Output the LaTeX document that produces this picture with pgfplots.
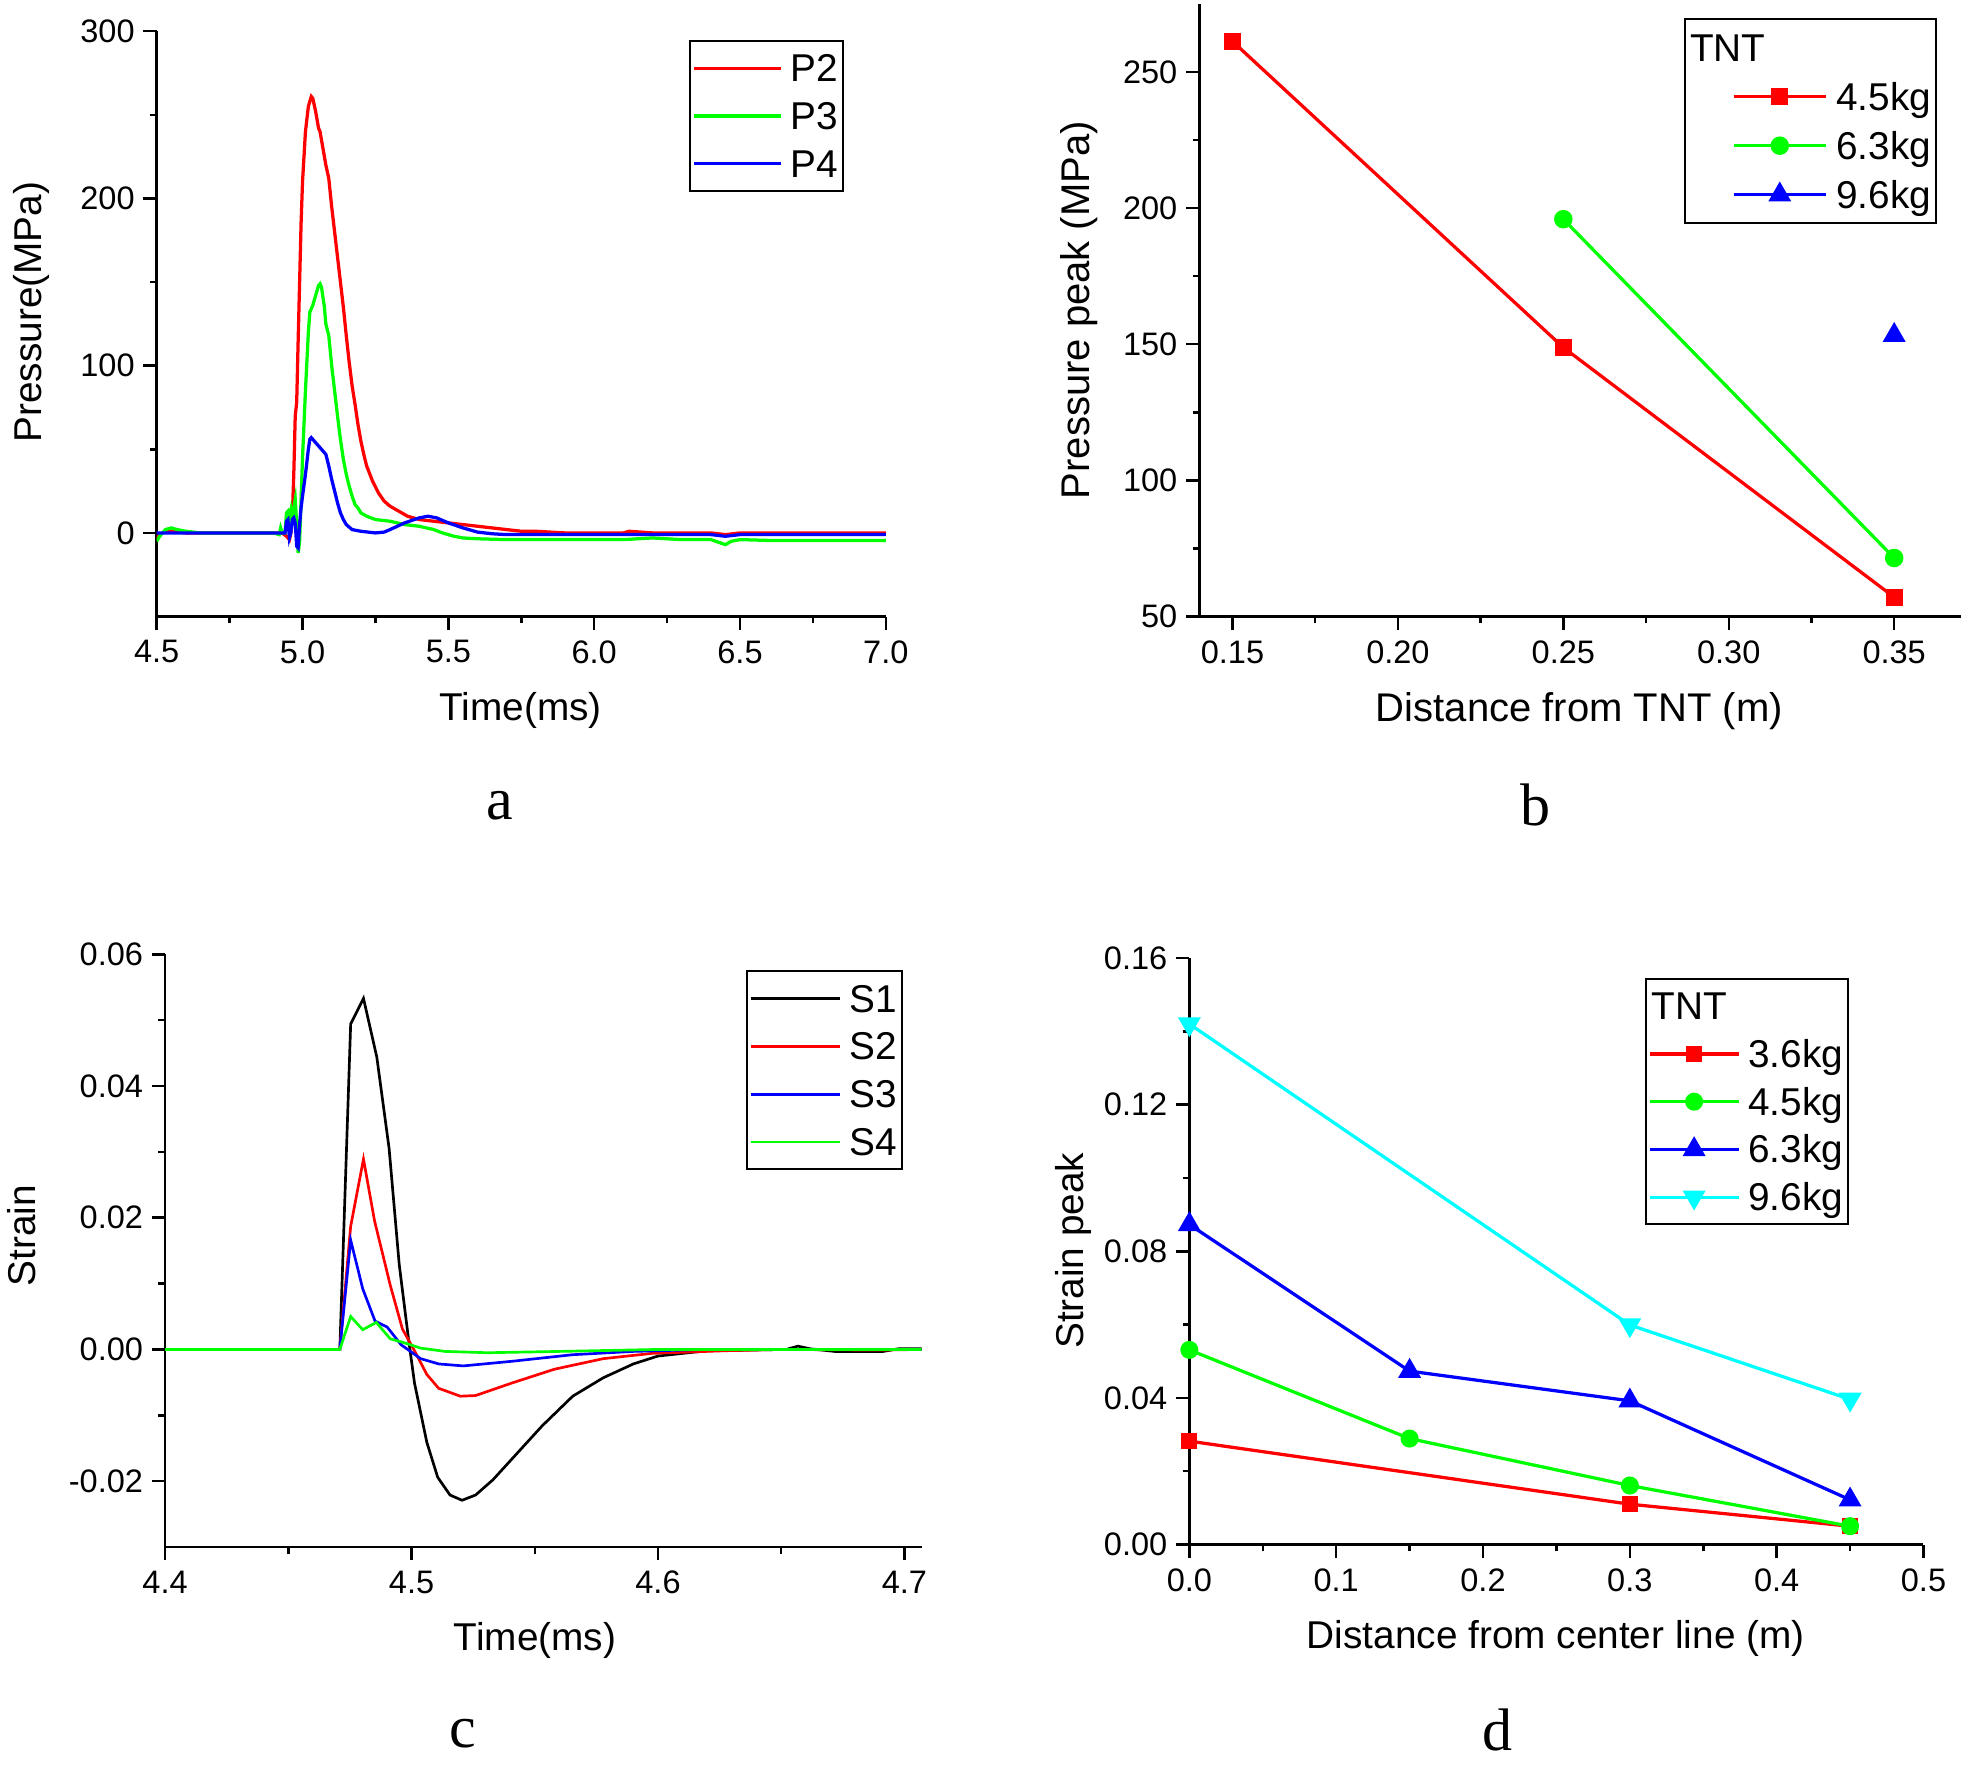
\documentclass[border=0pt]{standalone}
\usepackage{pgfplots}
\pgfplotsset{compat=1.18}
\usepackage{fontspec}
\setmainfont{Liberation Sans}
\newfontfamily\letterfont{Liberation Serif}
\definecolor{pgreen}{RGB}{0,255,0}
\definecolor{pcyan}{RGB}{0,255,255}
\begin{document}
\begin{tikzpicture}
\useasboundingbox (0,0) rectangle (784pt,706pt);
\pgfplotsset{
  base/.style={
    scale only axis,
    axis x line=bottom, axis y line=left,
    axis line style={-, line width=1pt},
    tick align=outside,
    major tick length=5.3pt, minor tick length=2.7pt,
    every tick/.style={black, line width=1pt},
    minor tick num=1,
    scaled ticks=false,
    xticklabel shift=0.7pt,
    tick label style={font=\fontsize{13}{15}\selectfont},
    label style={font=\fontsize{15.5}{18}\selectfont},
    /pgf/number format/assume math mode=true,
    legend cell align=left,
    legend style={draw=black, line width=0.8pt, font=\fontsize{15.5}{18}\selectfont,
      inner xsep=1pt, inner ysep=1.3pt, row sep=0pt,
      nodes={inner sep=1pt, text height=13.9pt, text depth=3.2pt}},
    every axis plot/.append style={line width=1.3pt},
  },
}
% ---------------- panel a
\begin{axis}[base, at={(62.65pt,459.5pt)}, anchor=south west,
  width=291.5pt, height=234pt,
  xmin=4.5, xmax=7.0, ymin=-50, ymax=300,
  xtick={4.5,5.0,5.5,6.0,6.5,7.0}, ytick={0,100,200,300},
  xticklabel style={/pgf/number format/.cd, fixed, fixed zerofill, precision=1},
  xlabel={Time(ms)}, ylabel={Pressure(MPa)},
  xlabel style={at={(axis description cs:0.499,-0.160)}, anchor=center},
  ylabel style={at={(axis description cs:-0.1715,0.52)}, anchor=center},
  legend style={at={(0.7302,0.985)}, anchor=north west},
  legend image code/.code={\path (0pt,0pt); \draw[#1] (0pt,0pt) -- (34.5pt,0pt); \path (36.8pt,0pt);},
]
\addplot[red] coordinates {(4.50,-3) (4.51,-1) (4.53,1) (4.56,1) (4.6,0) (4.7,0) (4.8,0) (4.9,0) (4.93,0) (4.945,-2) (4.955,-4) (4.96,0) (4.965,10) (4.97,35) (4.975,70) (4.98,78) (4.985,115) (4.99,150) (4.995,185) (5.00,210) (5.01,240) (5.02,255) (5.03,261) (5.035,260) (5.045,252) (5.055,242) (5.06,240) (5.07,230) (5.08,220) (5.09,212) (5.10,195) (5.11,180) (5.12,165) (5.13,150) (5.14,135) (5.15,118) (5.16,102) (5.17,88) (5.18,77) (5.19,65) (5.20,55) (5.21,47) (5.22,40) (5.24,31) (5.26,24) (5.28,19) (5.30,16) (5.33,13) (5.36,10) (5.40,8) (5.45,7) (5.50,6) (5.55,5) (5.60,4) (5.65,3) (5.70,2) (5.75,1) (5.80,1) (5.9,0) (6.0,0) (6.1,0) (6.12,1) (6.2,0) (6.4,0) (6.45,-1) (6.5,0) (7.0,0)};
\addlegendentry{P2}
\addplot[pgreen] coordinates {(4.50,-5) (4.51,-2) (4.53,2) (4.55,3) (4.57,2) (4.6,1) (4.65,0) (4.9,0) (4.92,-1) (4.925,3) (4.93,0) (4.94,0) (4.945,12) (4.95,13) (4.955,8) (4.96,13) (4.965,5) (4.97,15) (4.975,20) (4.98,5) (4.985,-12) (4.99,-5) (4.995,20) (5.0,45) (5.01,85) (5.02,120) (5.025,132) (5.035,136) (5.045,142) (5.055,148) (5.06,149) (5.065,147) (5.075,135) (5.08,125) (5.09,118) (5.10,100) (5.11,85) (5.12,70) (5.13,56) (5.14,44) (5.15,35) (5.16,28) (5.17,22) (5.18,17) (5.19,15) (5.2,12) (5.22,10) (5.25,8) (5.3,7) (5.35,5) (5.4,4) (5.45,2) (5.48,0) (5.52,-2) (5.55,-3) (5.6,-3.5) (5.7,-4) (5.9,-4) (6.1,-4) (6.2,-3) (6.3,-4) (6.4,-4) (6.45,-7) (6.47,-5) (6.5,-4) (6.6,-4.5) (7.0,-4.5)};
\addlegendentry{P3}
\addplot[blue] coordinates {(4.5,0) (4.9,0) (4.94,0) (4.945,7) (4.95,8) (4.955,-3) (4.96,0) (4.965,8) (4.97,9) (4.975,6) (4.98,-8) (4.985,-9) (4.99,5) (4.995,15) (5.0,22) (5.01,35) (5.02,50) (5.025,56) (5.03,57) (5.04,55) (5.05,53) (5.06,51) (5.07,49) (5.08,47) (5.09,40) (5.10,32) (5.11,25) (5.12,18) (5.13,12) (5.14,8) (5.15,5) (5.17,2) (5.2,1) (5.25,0) (5.28,0.5) (5.3,2) (5.35,6) (5.4,9) (5.43,10) (5.46,9) (5.5,6) (5.55,3) (5.6,0.5) (5.65,-0.5) (5.7,-1) (6.0,-1) (6.4,-1) (6.45,-2) (6.5,-1) (6.7,-1) (7.0,-1)};
\addlegendentry{P4}
\end{axis}
% ---------------- panel b
\begin{axis}[base, at={(479.5pt,459.5pt)}, anchor=south west,
  width=304.5pt, height=245pt,
  xmin=0.14, xmax=0.3702, ymin=50, ymax=275,
  xtick={0.15,0.20,0.25,0.30,0.35}, ytick={50,100,150,200,250},
  xticklabel style={/pgf/number format/.cd, fixed, fixed zerofill, precision=2},
  xlabel={Distance from TNT (m)}, ylabel={Pressure peak (MPa)},
  label style={font=\fontsize{16}{19}\selectfont},
  xlabel style={at={(axis description cs:0.499,-0.155)}, anchor=center},
  ylabel style={at={(axis description cs:-0.1576,0.50)}, anchor=center},
  legend style={at={(0.6366,0.9761)}, anchor=north west, inner ysep=1.5pt,
    nodes={inner sep=1pt, text height=14.35pt, text depth=3.25pt}},
  legend image code/.code={\path (0pt,0pt); \draw[mark repeat=2,mark phase=2,#1] plot coordinates {(17.65pt,0pt) (36.15pt,0pt) (54.65pt,0pt)}; \path (57.15pt,0pt);},
]
\addlegendimage{empty legend}
\addlegendentry{\makebox[0pt][l]{\hspace*{-58.5pt}TNT}}
\addplot[red, mark=square*, mark size=2.75pt] coordinates {(0.15,261.2) (0.25,148.8) (0.35,57.1)};
\addlegendentry{4.5kg}
\addplot[pgreen, mark=*, mark size=3.05pt] coordinates {(0.25,195.9) (0.35,71.5)};
\addlegendentry{6.3kg}
\addplot[blue, mark=triangle*, mark size=4pt] coordinates {(0.35,153.3)};
\addlegendentry{9.6kg}
\end{axis}
% ---------------- panel c
\begin{axis}[base, at={(66pt,87.5pt)}, anchor=south west,
  width=302.5pt, height=237pt,
  xmin=4.4, xmax=4.707, ymin=-0.03, ymax=0.06,
  xtick={4.4,4.5,4.6,4.7}, ytick={-0.02,0,0.02,0.04,0.06},
  xticklabel style={/pgf/number format/.cd, fixed, fixed zerofill, precision=1},
  yticklabel style={/pgf/number format/.cd, fixed, fixed zerofill, precision=2},
  xlabel={Time(ms)}, ylabel={Strain},
  xlabel style={at={(axis description cs:0.489,-0.158)}, anchor=center},
  ylabel style={at={(axis description cs:-0.19,0.525)}, anchor=center},
  legend style={at={(0.7678,0.9726)}, anchor=north west},
  legend image code/.code={\path (0pt,0pt); \draw[#1] (0pt,0pt) -- (35.75pt,0pt); \path (38pt,0pt);},
  every axis plot/.append style={line width=1.07pt},
]
\addplot[black] coordinates {(4.4,0) (4.47,0) (4.4709,0) (4.4753,0.0494) (4.4805,0.0533) (4.4859,0.0444) (4.4909,0.0305) (4.495,0.0129) (4.4988,0.0015) (4.5012,-0.0051) (4.5062,-0.0141) (4.5106,-0.0194) (4.5156,-0.0221) (4.5205,-0.0229) (4.526,-0.0221) (4.533,-0.0198) (4.543,-0.0157) (4.553,-0.0116) (4.5654,-0.0071) (4.5778,-0.0043) (4.59,-0.0022) (4.6,-0.001) (4.61,-0.0006) (4.62,-0.0002) (4.652,0) (4.6568,0.0005) (4.6617,0.0001) (4.6716,-0.0003) (4.6914,-0.0003) (4.6975,0.0001) (4.707,0.0001)};
\addlegendentry{S1}
\addplot[red] coordinates {(4.4,0) (4.4709,0) (4.4753,0.0187) (4.4805,0.0289) (4.485,0.0195) (4.4914,0.0097) (4.4963,0.0031) (4.5012,-0.0002) (4.5062,-0.0038) (4.511,-0.0059) (4.5198,-0.0071) (4.526,-0.007) (4.5407,-0.0051) (4.558,-0.003) (4.5778,-0.0014) (4.5975,-0.0006) (4.627,-0.0002) (4.65,0) (4.69,-0.0001) (4.707,0)};
\addlegendentry{S2}
\addplot[blue] coordinates {(4.4,0) (4.4709,0) (4.4753,0.0166) (4.4802,0.0092) (4.4852,0.0043) (4.4901,0.0034) (4.4958,0.0007) (4.5037,-0.0014) (4.511,-0.0022) (4.521,-0.0025) (4.5407,-0.0018) (4.5654,-0.0008) (4.59,-0.0003) (4.62,0) (4.707,0)};
\addlegendentry{S3}
\addplot[pgreen] coordinates {(4.4,0) (4.4709,0) (4.4753,0.005) (4.4802,0.003) (4.4857,0.0041) (4.4914,0.0016) (4.4963,0.0011) (4.5037,0.0002) (4.5136,-0.0003) (4.5309,-0.0005) (4.56,-0.0003) (4.6,0) (4.707,0)};
\addlegendentry{S4}
\end{axis}
% ---------------- panel d
\begin{axis}[base, at={(475.5pt,88.5pt)}, anchor=south west,
  width=293.5pt, height=234.5pt,
  xmin=0, xmax=0.5, ymin=0, ymax=0.16,
  xtick={0,0.1,0.2,0.3,0.4,0.5}, ytick={0,0.04,0.08,0.12,0.16},
  xticklabel style={/pgf/number format/.cd, fixed, fixed zerofill, precision=1},
  yticklabel style={/pgf/number format/.cd, fixed, fixed zerofill, precision=2},
  xlabel={Distance from center line (m)}, ylabel={Strain peak},
  xlabel style={at={(axis description cs:0.499,-0.16)}, anchor=center},
  ylabel style={at={(axis description cs:-0.158,0.501)}, anchor=center},
  legend style={at={(0.6201,0.9659)}, anchor=north west},
  legend image code/.code={\path (0pt,0pt); \draw[mark repeat=2,mark phase=2,#1] plot coordinates {(0pt,0pt) (17.75pt,0pt) (35.5pt,0pt)}; \path (37.8pt,0pt);},
  clip=false,
]
\addlegendimage{empty legend}
\addlegendentry{\makebox[0pt][l]{\hspace*{-38.8pt}TNT}}
\addplot[red, mark=square*, mark size=2.55pt] coordinates {(0,0.0282) (0.3,0.011) (0.45,0.005)};
\addlegendentry{3.6kg}
\addplot[pgreen, mark=*, mark size=2.95pt] coordinates {(0,0.0531) (0.15,0.0289) (0.3,0.0161) (0.45,0.005)};
\addlegendentry{4.5kg}
\addplot[blue, mark=triangle*, mark size=4pt] coordinates {(0,0.0873) (0.15,0.0473) (0.3,0.0392) (0.45,0.0122)};
\addlegendentry{6.3kg}
\addplot[pcyan, mark=triangle*, mark size=4pt, mark options={rotate=180}] coordinates {(0,0.142) (0.3,0.0599) (0.45,0.0396)};
\addlegendentry{9.6kg}
\end{axis}
% panel letters
\node[font=\letterfont\fontsize{24}{28}\selectfont] at (200pt,384pt) {a};
\node[font=\letterfont\fontsize{24}{28}\selectfont] at (614pt,384pt) {b};
\node[font=\letterfont\fontsize{24}{28}\selectfont] at (185pt,13pt) {c};
\node[font=\letterfont\fontsize{24}{28}\selectfont] at (598.5pt,14.5pt) {d};
\end{tikzpicture}
\end{document}
